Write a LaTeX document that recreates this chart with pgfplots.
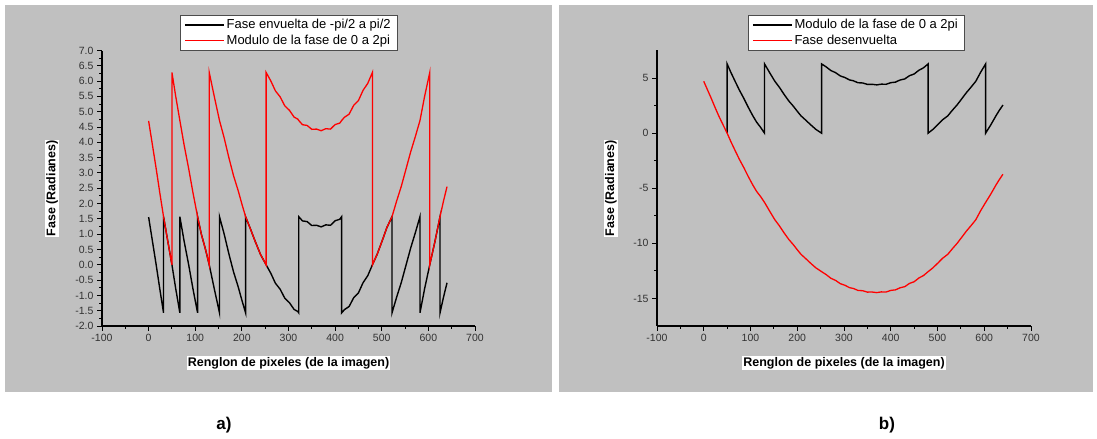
\documentclass[border=0pt]{standalone}
\usepackage{pgfplots}
\pgfplotsset{compat=1.18}
\usepackage{fontspec}
\setmainfont{Liberation Sans}
\definecolor{panel}{RGB}{192,192,192}
\definecolor{tickc}{RGB}{50,50,50}
\definecolor{myred}{RGB}{255,0,0}
\pgfplotsset{
  mystyle/.style={
    scale only axis, axis lines=left, axis line style={-, line width=1.1bp, black},
    tick align=outside, major tick length=5bp, minor tick length=3bp,
    every tick/.style={black, line width=0.9bp},
    xmin=-100, xmax=700, xtick={-100,0,...,700}, minor x tick num=1,
    minor y tick num=1, scaled ticks=false,
    /pgf/number format/assume math mode=true,
    tick label style={font=\fontsize{10.5bp}{12bp}\selectfont, color=tickc},
    label style={font=\bfseries\fontsize{12.5bp}{14bp}\selectfont, fill=white, inner sep=0.8bp},
    xlabel={Renglon de pixeles (de la imagen)},
    ylabel={Fase (Radianes)},
    xlabel style={at={(axis description cs:0.5,-0.134)}, anchor=center},
    legend style={font=\fontsize{13bp}{15bp}\selectfont, draw=black!70, fill=white,
      inner xsep=4bp, inner ysep=2.5bp, row sep=0.5bp, anchor=south},
    legend cell align=left,
    legend image code/.code={\path (0bp,0bp) -- (9bp,0bp); \draw[#1] (9bp,0bp) -- (39bp,0bp);},
  }
}
\begin{document}
\begin{tikzpicture}
\useasboundingbox (0bp,0bp) rectangle (1097bp,439bp);
\fill[white] (0bp,0bp) rectangle (1097bp,439bp);
\fill[panel] (5bp,47bp) rectangle (552bp,434bp);
\fill[panel] (559bp,47bp) rectangle (1093bp,434bp);

\begin{axis}[mystyle, at={(102bp,113bp)}, anchor=south west, width=373bp, height=275.5bp,
  ymin=-2, ymax=7,
  ytick={-2,-1.5,-1,-0.5,0,0.5,1,1.5,2,2.5,3,3.5,4,4.5,5,5.5,6,6.5,7},
  yticklabel style={/pgf/number format/.cd, fixed, fixed zerofill, precision=1},
  ylabel style={at={(axis description cs:-0.134,0.5)}, anchor=center},
  legend style={at={(0.5,1)}}]
\addplot[draw=black, line width=1.4bp] coordinates {
(0,1.558)(8,0.788)(16,0.018)(24,-0.792)(32,-1.571)(32,1.571)(41,0.780)(50,0.000)(58,-0.770)(67,-1.571)(67,1.571)(76,0.782)(86,-0.008)(95,-0.778)(105,-1.570)(105,1.571)(113,1.003)(122,0.503)(130,0.000)(141,-0.797)(152,-1.571)(152,1.571)(162,1.005)(172,0.365)(182,-0.225)(192,-0.715)(200,-1.155)(208,-1.571)(208,1.570)(218,1.186)(228,0.786)(240,0.336)(252,0.000)(262,-0.276)(272,-0.605)(282,-0.796)(292,-1.091)(302,-1.238)(312,-1.459)(320,-1.526)(322,-1.571)(322,1.571)(330,1.434)(340,1.410)(350,1.282)(360,1.291)(370,1.238)(380,1.304)(390,1.290)(400,1.438)(410,1.487)(414,1.571)(414,-1.571)(420,-1.465)(430,-1.363)(440,-1.071)(450,-0.918)(460,-0.583)(470,-0.357)(480,0.000)(490,0.336)(501,0.786)(511,1.216)(522,1.570)(522,-1.571)(532,-1.055)(542,-0.575)(552,-0.015)(562,0.545)(572,1.045)(582,1.571)(582,-1.571)(592,-0.777)(603,0.000)(614,0.753)(625,1.571)(625,-1.571)(632,-1.088)(640,-0.588)};
\addlegendentry{Fase envuelta de -pi/2 a pi/2}
\addplot[draw=myred, line width=1.3bp] coordinates {
(0,4.700)(8,3.930)(16,3.160)(24,2.350)(32,1.571)(41,0.780)(50,0.000)(50,6.283)(58,5.513)(67,4.712)(76,3.923)(86,3.133)(95,2.363)(105,1.571)(113,1.003)(122,0.503)(130,0.000)(130,6.283)(141,5.486)(152,4.712)(162,4.146)(172,3.506)(182,2.916)(192,2.426)(200,1.986)(208,1.570)(218,1.186)(228,0.786)(240,0.336)(252,0.000)(252,6.284)(262,6.008)(272,5.679)(282,5.488)(292,5.193)(302,5.046)(312,4.825)(320,4.758)(322,4.713)(330,4.576)(340,4.552)(350,4.424)(360,4.433)(370,4.380)(380,4.446)(390,4.432)(400,4.580)(410,4.629)(414,4.713)(420,4.819)(430,4.921)(440,5.213)(450,5.366)(460,5.701)(470,5.927)(480,6.284)(480,0.000)(490,0.336)(501,0.786)(511,1.216)(522,1.570)(532,2.086)(542,2.566)(552,3.126)(562,3.686)(572,4.186)(582,4.712)(592,5.506)(603,6.283)(603,0.000)(614,0.753)(625,1.571)(632,2.053)(640,2.553)};
\addlegendentry{Modulo de la fase de 0 a 2pi}
\end{axis}

\begin{axis}[mystyle, at={(657bp,113bp)}, anchor=south west, width=374bp, height=275.5bp,
  ymin=-17.5, ymax=7.5, ytick={-15,-10,-5,0,5},
  ylabel style={at={(axis description cs:-0.123,0.5)}, anchor=center},
  legend style={at={(0.532,1)}}]
\addplot[draw=black, line width=1.4bp] coordinates {
(50,0.000)(50,6.283)(58,5.513)(67,4.712)(76,3.923)(86,3.133)(95,2.363)(105,1.571)(113,1.003)(122,0.503)(130,0.000)(130,6.283)(141,5.486)(152,4.712)(162,4.146)(172,3.506)(182,2.916)(192,2.426)(200,1.986)(208,1.570)(218,1.186)(228,0.786)(240,0.336)(252,0.000)(252,6.284)(262,6.008)(272,5.679)(282,5.488)(292,5.193)(302,5.046)(312,4.825)(320,4.758)(322,4.713)(330,4.576)(340,4.552)(350,4.424)(360,4.433)(370,4.380)(380,4.446)(390,4.432)(400,4.580)(410,4.629)(414,4.713)(420,4.819)(430,4.921)(440,5.213)(450,5.366)(460,5.701)(470,5.927)(480,6.284)(480,0.000)(490,0.336)(501,0.786)(511,1.216)(522,1.570)(532,2.086)(542,2.566)(552,3.126)(562,3.686)(572,4.186)(582,4.712)(592,5.506)(603,6.283)(603,0.000)(614,0.753)(625,1.571)(632,2.053)(640,2.553)};
\addlegendentry{Modulo de la fase de 0 a 2pi}
\addplot[draw=myred, line width=1.3bp] coordinates {
(0,4.700)(8,3.930)(16,3.160)(24,2.350)(32,1.571)(41,0.780)(50,0.000)(58,-0.770)(67,-1.571)(76,-2.360)(86,-3.150)(95,-3.920)(105,-4.712)(113,-5.280)(122,-5.780)(130,-6.283)(141,-7.080)(152,-7.854)(162,-8.420)(172,-9.060)(182,-9.650)(192,-10.140)(200,-10.580)(208,-10.996)(218,-11.380)(228,-11.780)(240,-12.230)(252,-12.566)(262,-12.842)(272,-13.171)(282,-13.362)(292,-13.657)(302,-13.804)(312,-14.025)(320,-14.092)(330,-14.274)(340,-14.298)(350,-14.426)(360,-14.417)(370,-14.470)(380,-14.404)(390,-14.418)(400,-14.270)(410,-14.221)(420,-14.031)(430,-13.929)(440,-13.637)(450,-13.484)(460,-13.149)(470,-12.923)(480,-12.566)(490,-12.230)(501,-11.780)(511,-11.350)(522,-10.996)(532,-10.480)(542,-10.000)(552,-9.440)(562,-8.880)(572,-8.380)(582,-7.854)(592,-7.060)(603,-6.283)(614,-5.530)(625,-4.712)(632,-4.230)(640,-3.730)};
\addlegendentry{Fase desenvuelta}
\end{axis}

\node[font=\bfseries\fontsize{17bp}{20bp}\selectfont] at (224bp,14bp) {a)};
\node[font=\bfseries\fontsize{17bp}{20bp}\selectfont] at (887bp,14bp) {b)};
\end{tikzpicture}
\end{document}
